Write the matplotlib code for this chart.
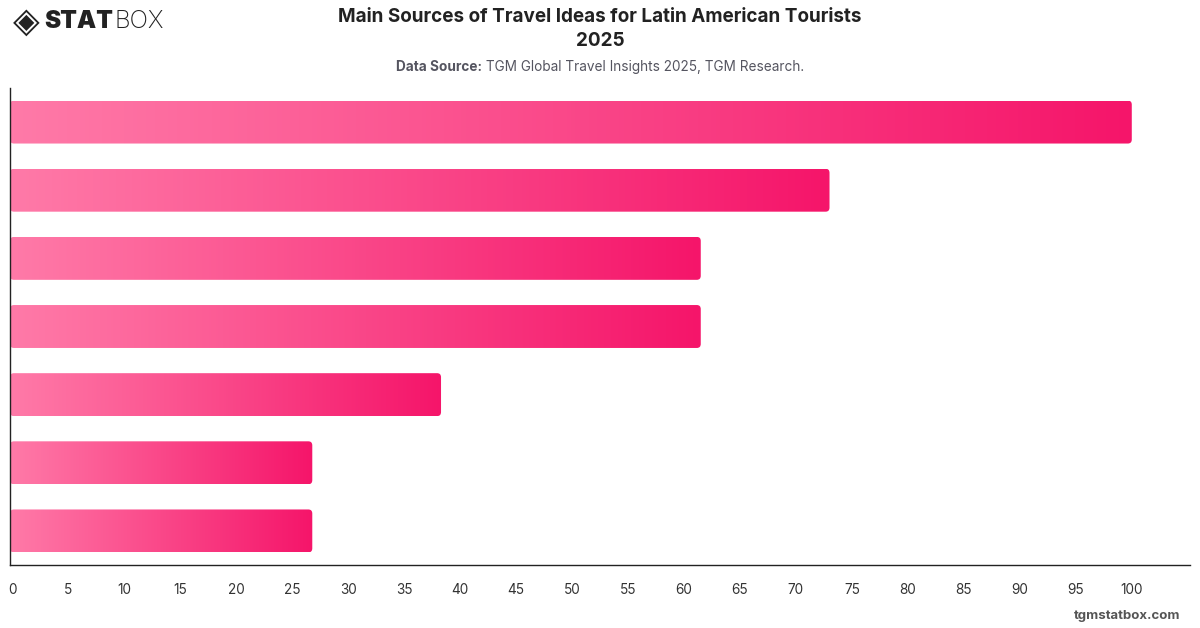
import numpy as np
import matplotlib
matplotlib.use("Agg")
import matplotlib.pyplot as plt
from matplotlib.patches import FancyBboxPatch
from matplotlib.colors import LinearSegmentedColormap

# share of respondents (%), top to bottom as drawn
values = [100, 73.0, 61.5, 61.5, 38.3, 26.8, 26.8]
xticks = list(range(0, 101, 5))

title = "Main Sources of Travel Ideas for Latin American Tourists\n2025"
source_bold = "Data Source:"
source_rest = " TGM Global Travel Insights 2025, TGM Research."

plt.rcParams['font.family'] = ['Inter', 'DejaVu Sans']

fig = plt.figure(figsize=(12, 6.28), dpi=100)
ax = fig.add_axes([10/1200, 1 - 565/628, 1180/1200, (565-88)/628])

cmap = LinearSegmentedColormap.from_list("pink", ["#ff7aa8", "#f5156a"])
grad = np.linspace(0, 1, 256).reshape(1, -1)
bar_h = 0.63
xmin, xmax = -0.2, 105.2

for i, v in enumerate(values):
    y0 = i - bar_h / 2
    box = FancyBboxPatch((xmin, y0), v - xmin, bar_h,
                         boxstyle="round,pad=0,rounding_size=0.35",
                         mutation_aspect=0.17, transform=ax.transData,
                         facecolor="none", edgecolor="none")
    ax.add_patch(box)
    im = ax.imshow(grad, cmap=cmap, aspect="auto",
                   extent=(xmin, v, y0 + bar_h, y0), zorder=2)
    im.set_clip_path(box)

ax.set_ylim(len(values) - 0.5, -0.5)
ax.set_xlim(xmin, xmax)

ax.set_xticks(xticks)
ax.set_xticklabels([str(t) for t in xticks])
ax.set_yticks([])
ax.tick_params(axis="x", length=0, pad=13, labelsize=9.8, labelcolor="#333333")
for s in ["top", "right"]:
    ax.spines[s].set_visible(False)
for s in ["left", "bottom"]:
    ax.spines[s].set_color("#222222")
    ax.spines[s].set_linewidth(1.0)
    ax.spines[s].set_zorder(3)

fig.text(0.5, 1 - 29/628, title, ha="center", va="center", fontsize=13.6,
         fontweight="bold", color="#222222", linespacing=1.4)
t1 = fig.text(396/1200, 1 - 67/628, source_bold, ha="left", va="center",
              fontsize=9.8, fontweight="bold", color="#555560")
fig.canvas.draw()
bb = t1.get_window_extent()
fig.text(bb.x1 / 1200, 1 - 67/628, source_rest, ha="left", va="center",
         fontsize=9.8, color="#555560")

# logo
fig.text(13/1200, 1 - 22/628, "\u25c8", family="DejaVu Sans", fontsize=25,
         color="#222222", ha="left", va="center")
t2 = fig.text(44/1200, 1 - 22/628, "STAT", fontsize=17.5, fontweight="black",
              color="#222222", ha="left", va="center")
fig.canvas.draw()
bb2 = t2.get_window_extent()
fig.text(bb2.x1 / 1200 + 0.001, 1 - 22/628, "BOX", fontsize=17.5,
         fontweight="light", color="#222222", ha="left", va="center")

fig.text(1180/1200, 1 - 616/628, "tgmstatbox.com", ha="right", va="center",
         fontsize=9.5, fontweight="bold", color="#555555")

fig.savefig("out.png", dpi=100)
